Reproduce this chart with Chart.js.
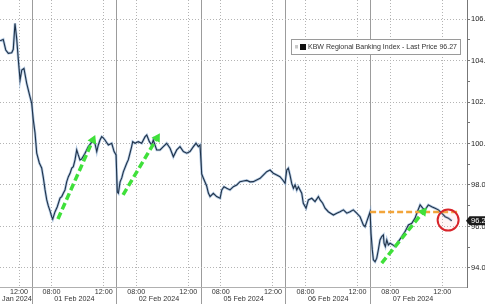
<!DOCTYPE html>
<html>
<head>
<meta charset="utf-8">
<script src="https://cdn.jsdelivr.net/npm/chart.js@4.4.1/dist/chart.umd.min.js"></script>
<style>
html, body { margin: 0; padding: 0; background: #fff; }
#wrap { position: relative; width: 485px; height: 304px; }
</style>
</head>
<body>
<div id="wrap"><canvas id="chart"></canvas></div>
<script>
// session hours: each trading day is 6.5h long, day i starts at i*6.5
const seriesName = 'KBW Regional Banking Index - Last Price';
const dayLabels = ['31 Jan 2024', '01 Feb 2024', '02 Feb 2024', '05 Feb 2024', '06 Feb 2024', '07 Feb 2024'];
const sessionLength = 6.5;
const timeMarks = [[1.5, '08:00'], [5.5, '12:00']];
const yTicks = [94, 95, 96, 97, 98, 99, 100, 101, 102, 103, 104, 105, 106];

const times = [
    4.04,4.29,4.48,4.68,4.94,5.06,5.19,5.32,5.45,5.58,5.71,5.88,6.09,6.34,6.47,
    6.60,6.73,6.86,7.06,7.24,7.37,7.50,7.63,7.75,7.88,8.01,8.09,8.26,8.44,8.65,8.78,8.90,9.03,9.16,9.29,
    9.42,9.55,9.67,9.80,9.93,10.05,10.18,10.31,10.57,10.82,11.03,11.21,11.34,11.47,11.59,11.72,11.85,11.97,12.10,12.36,12.62,12.80,12.95,
    13.05,13.13,13.26,13.39,13.51,13.77,13.89,14.02,14.14,14.23,14.41,14.66,14.92,15.18,15.31,15.51,15.69,15.81,16.07,16.33,
    16.58,16.84,17.10,17.35,17.61,17.86,18.12,18.38,18.63,18.89,19.09,19.27,19.40,
    19.53,19.65,19.91,20.04,20.17,20.42,20.68,20.94,21.07,21.24,21.45,21.70,21.96,22.22,22.47,22.73,22.99,23.24,23.49,23.75,
    24.01,24.26,24.52,24.78,25.03,25.29,25.54,25.75,25.93,
    26.06,26.18,26.31,26.44,26.57,26.70,26.83,26.95,27.21,27.33,27.54,27.72,27.98,28.23,28.49,28.62,28.82,29.00,29.25,29.64,
    29.90,30.15,30.41,30.67,30.92,31.17,31.43,31.69,31.94,32.07,32.20,32.33,32.46,
    32.53,32.63,32.71,32.84,32.97,33.09,33.22,33.35,33.48,33.53,33.63,33.74,33.86,33.99,34.20,34.38,34.63,34.89,35.14,35.40,
    35.66,35.91,36.09,36.30,36.50,36.68,36.93,37.19,37.45,37.70,37.96,38.22,38.47,38.73
];
const prices = [
    104.95,105.02,104.51,104.35,104.38,104.54,105.79,105.07,104.02,103.06,103.54,103.62,102.90,102.26,101.95,
    101.13,100.51,99.54,99.06,98.82,98.34,97.76,97.28,96.99,96.75,96.47,96.35,96.70,96.95,97.37,97.44,97.60,97.76,98.15,98.40,
    98.56,98.81,98.88,99.21,99.69,99.45,99.21,99.25,99.53,99.85,100.02,100.17,99.98,99.61,99.93,100.17,100.33,100.27,100.17,99.93,100.01,99.61,99.45,
    97.66,97.60,98.15,98.34,98.63,99.05,99.21,99.53,99.83,100.09,100.01,100.09,100.01,100.33,100.41,100.09,99.93,100.17,99.69,99.69,
    99.85,100.01,99.77,99.36,99.69,99.85,99.61,99.53,99.61,99.85,100.01,99.85,99.93,
    98.53,98.34,97.95,97.61,97.44,97.60,97.44,97.36,97.76,97.92,97.84,97.76,97.92,98.00,98.16,98.19,98.22,98.15,98.16,98.24,
    98.32,98.48,98.64,98.72,98.56,98.48,98.40,98.24,98.08,
    98.72,98.81,98.48,98.08,97.84,98.00,97.76,97.92,97.60,97.12,96.88,97.28,97.36,97.20,97.44,97.28,97.12,96.88,96.71,96.55,
    96.64,96.71,96.80,96.64,96.71,96.80,96.64,96.47,96.07,95.99,96.23,96.47,96.71,
    95.67,94.87,94.39,94.30,94.47,94.87,95.35,95.51,95.59,95.19,95.03,95.35,95.11,95.19,95.11,95.03,95.27,95.51,95.75,96.07,
    96.15,96.40,96.71,97.04,96.88,96.80,97.04,96.95,96.88,96.80,96.64,96.47,96.40,96.27
];

// hand-drawn annotations, in chart units
const arrowFromX = [8.49, 13.49, 33.35];
const arrowFromY = [96.36, 97.52, 94.23];
const arrowToX = [11.18, 16.10, 36.55];
const arrowToY = [100.17, 100.27, 96.71];
const arrowTilt = [24, 31, 39];
const resistanceX = [32.46, 39.37];
const resistanceLevel = 96.70;
const circleX = 38.45;
const circleY = 96.31;

const xMin = 4.04, xMax = 39.9;
const yMin = 93.08, yMax = 106.92;
const font = '"Liberation Sans", Arial, sans-serif';

let xTickList = [];
dayLabels.forEach((d, i) => {
    const start = i * sessionLength;
    xTickList.push({value: start, kind: 'sep', text: ''});
    timeMarks.forEach(m => xTickList.push({value: start + m[0], kind: 'time', text: m[1]}));
    let mid = start + sessionLength / 2;
    if (mid < xMin) mid = start + sessionLength - 1.55;
    xTickList.push({value: mid, kind: 'date', text: ['', d]});
});
xTickList.sort((a, b) => a.value - b.value);

const pricePoints = times.map((t, i) => ({x: t, y: prices[i]}));
let datasets = [{
    data: pricePoints,
    borderColor: '#1f3249',
    borderWidth: 1.1,
    pointRadius: 0,
    tension: 0,
    order: 9
}, {
    // soft blue halo under the price line
    data: pricePoints,
    borderColor: 'rgba(120,160,205,0.55)',
    borderWidth: 2.6,
    pointRadius: 0,
    tension: 0,
    order: 10
}];
for (let i = 0; i < arrowFromX.length; i++) {
    datasets.push({
        data: [{x: arrowFromX[i], y: arrowFromY[i]}, {x: arrowToX[i], y: arrowToY[i]}],
        borderColor: '#3fe03a',
        backgroundColor: '#3fe03a',
        borderWidth: 3.5,
        borderDash: [7, 3.5],
        pointRadius: [0, 5.5],
        pointStyle: 'triangle',
        pointRotation: [0, arrowTilt[i]],
        pointBorderWidth: 0,
        order: 1
    });
}
datasets.push({
    data: resistanceX.map(x => ({x: x, y: resistanceLevel})),
    borderColor: '#f2a53a',
    borderWidth: 2.5,
    borderDash: [6, 3],
    pointRadius: 0,
    order: 2
});
datasets.push({
    data: [{x: circleX, y: circleY}],
    showLine: false,
    pointRadius: 10.5,
    pointBorderColor: '#d8242a',
    pointBorderWidth: 2,
    pointBackgroundColor: 'rgba(255,170,170,0.12)',
    order: 0
});

const overlay = {
    id: 'overlay',
    afterDraw(chart) {
        const ctx = chart.ctx;
        const last = prices[prices.length - 1];
        ctx.save();
        // legend box
        ctx.fillStyle = '#fff';
        ctx.fillRect(291.5, 39.5, 169, 15);
        ctx.strokeStyle = '#9a9a9a';
        ctx.lineWidth = 1;
        ctx.strokeRect(291.5, 39.5, 169, 15);
        ctx.fillStyle = '#c8c8c8';
        ctx.fillRect(295, 45, 3, 3.5);
        ctx.fillStyle = '#111';
        ctx.fillRect(300, 44, 6, 6);
        const text = seriesName + ' ' + last.toFixed(2);
        ctx.font = '8px ' + font;
        const size = 8 * 149 / ctx.measureText(text).width;
        ctx.font = size.toFixed(2) + 'px ' + font;
        ctx.fillStyle = '#333';
        ctx.textBaseline = 'middle';
        ctx.fillText(text, 308, 47.5);
        // last price tag
        const y = chart.scales.y.getPixelForValue(last);
        ctx.fillStyle = '#1a1a1a';
        ctx.beginPath();
        ctx.moveTo(466, y);
        ctx.lineTo(469.5, y - 4.5);
        ctx.lineTo(490, y - 4.5);
        ctx.lineTo(490, y + 4.5);
        ctx.lineTo(469.5, y + 4.5);
        ctx.closePath();
        ctx.fill();
        ctx.fillStyle = '#fff';
        ctx.font = '7.5px ' + font;
        ctx.fillText(last.toFixed(2), 471, y + 0.5);
        ctx.restore();
    }
};

new Chart(document.getElementById('chart'), {
    type: 'line',
    data: {datasets: datasets},
    plugins: [overlay],
    options: {
        responsive: true,
        maintainAspectRatio: false,
        animation: false,
        events: [],
        layout: {padding: 0, autoPadding: false},
        plugins: {legend: {display: false}, tooltip: {enabled: false}},
        scales: {
            x: {
                type: 'linear',
                min: xMin,
                max: xMax,
                afterBuildTicks: s => { s.ticks = xTickList.map(t => Object.assign({}, t)); },
                afterFit: s => { s.height = 17; s.paddingLeft = 0; s.paddingRight = 0; },
                ticks: {
                    autoSkip: false,
                    maxRotation: 0,
                    minRotation: 0,
                    padding: -17,
                    color: '#333',
                    font: {family: font, size: 7.2, lineHeight: 1.05},
                    callback: (v, i, ticks) => ticks[i].text
                },
                grid: {
                    lineWidth: 1,
                    tickLength: 18,
                    color: c => !c.tick ? '#aaa' : c.tick.kind === 'sep' ? '#9c9c9c' : c.tick.kind === 'time' ? '#b4b4b4' : 'rgba(0,0,0,0)',
                    tickColor: c => c.tick && c.tick.kind === 'sep' ? '#9c9c9c' : 'rgba(0,0,0,0)'
                },
                border: {
                    color: '#b0b0b0',
                    dash: c => c.tick && c.tick.kind === 'time' ? [1, 2] : []
                }
            },
            y: {
                position: 'right',
                min: yMin,
                max: yMax,
                afterBuildTicks: s => { s.ticks = yTicks.map(v => ({value: v})); },
                afterFit: s => { s.width = 18; s.paddingTop = 0; s.paddingBottom = 0; },
                ticks: {
                    padding: 1,
                    color: '#222',
                    font: {family: font, size: 7.5},
                    callback: v => v % 2 === 0 ? v.toFixed(1) : ''
                },
                grid: {
                    tickLength: 3,
                    color: c => c.tick && c.tick.value % 2 === 0 ? '#b4b4b4' : 'rgba(0,0,0,0)',
                    tickColor: '#777'
                },
                border: {
                    color: '#777',
                    dash: c => c.tick ? [1, 2] : []
                }
            }
        }
    }
});
</script>
</body>
</html>
